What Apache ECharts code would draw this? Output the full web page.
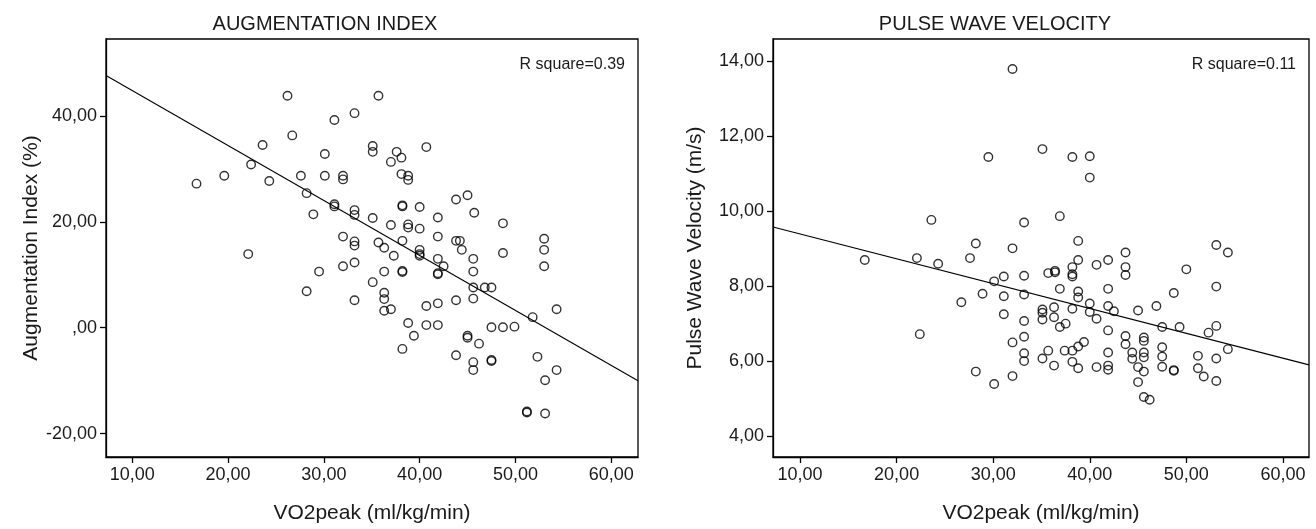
<!DOCTYPE html>
<html>
<head>
<meta charset="utf-8">
<title>AIx and PWV vs VO2peak</title>
<script src="https://cdn.jsdelivr.net/npm/echarts@6/dist/echarts.min.js"></script>
<style>
  html, body { margin: 0; padding: 0; background: #fff; }
  #main { width: 1316px; height: 529px; }
</style>
</head>
<body>
<div id="main"></div>
<script>
// augmentation index (%) against VO2peak
var aixPoints = [
  [16.7, 27.2], [19.6, 28.7], [22.4, 30.8], [23.6, 34.5], [24.3, 27.7], [26.2, 43.8],
  [26.7, 36.3], [27.6, 28.7], [28.2, 25.4], [28.9, 21.4], [30.1, 32.8], [30.1, 28.7],
  [31.1, 39.2], [31.1, 23.3], [31.1, 22.9], [32.0, 28.7], [32.0, 28.0], [32.0, 17.2],
  [33.2, 40.5], [33.2, 22.2], [33.2, 21.3], [33.2, 16.3], [33.2, 15.5], [35.1, 34.3],
  [35.1, 33.2], [35.1, 20.7], [35.7, 43.8], [35.7, 16.1], [36.3, 15.1], [22.1, 13.9],
  [28.2, 6.9], [29.5, 10.6], [32.0, 11.6], [33.2, 12.3], [33.2, 5.2], [35.1, 8.6],
  [37.6, 33.2], [38.1, 32.1], [37.0, 31.3], [40.7, 34.1], [38.1, 29.0], [38.8, 28.7],
  [38.8, 27.9], [38.2, 23.1], [38.2, 22.9], [40.0, 22.8], [43.8, 24.2], [45.0, 25.0],
  [45.7, 21.7], [41.9, 20.8], [38.8, 19.5], [38.8, 18.9], [37.0, 19.4], [40.0, 18.7],
  [48.7, 19.7], [41.9, 17.2], [43.8, 16.4], [44.2, 16.4], [53.0, 16.8], [53.0, 14.7],
  [53.0, 11.6], [38.2, 16.4], [40.0, 14.7], [40.0, 13.9], [40.0, 13.6], [41.9, 13.0],
  [42.5, 11.6], [44.4, 14.7], [45.6, 13.0], [48.7, 14.1], [37.3, 13.6], [36.3, 10.6],
  [38.2, 10.5], [38.2, 10.7], [41.9, 10.1], [41.9, 10.3], [45.6, 10.6], [36.3, 6.6],
  [36.3, 5.4], [36.3, 3.2], [37.0, 3.5], [40.7, 4.1], [41.9, 4.6], [43.8, 5.2],
  [45.6, 7.6], [45.6, 5.5], [46.8, 7.6], [47.5, 7.6], [38.8, 0.9], [40.7, 0.5],
  [41.9, 0.5], [39.4, -1.5], [38.2, -4.0], [45.0, -1.5], [45.0, -1.9], [46.2, -3.0],
  [47.5, 0.1], [48.7, 0.1], [49.9, 0.2], [43.8, -5.2], [45.6, -6.5], [45.6, -8.0],
  [47.5, -6.1], [47.5, -6.3], [51.8, 2.0], [54.3, 3.5], [52.3, -5.5], [54.3, -8.0],
  [53.1, -9.9], [51.2, -16.0], [51.2, -15.8], [53.1, -16.2]
]

// pulse wave velocity (m/s) against VO2peak
var pwvPoints = [
  [32.0, 13.80], [29.5, 11.45], [35.1, 11.66], [23.6, 9.77], [33.2, 9.70], [28.2, 9.14],
  [32.0, 9.01], [38.2, 11.45], [40.0, 11.47], [40.0, 10.90], [36.9, 9.87], [38.8, 9.21],
  [43.7, 8.90], [53.1, 9.10], [54.3, 8.90], [16.7, 8.70], [22.1, 8.75], [24.3, 8.60],
  [27.6, 8.75], [31.1, 8.26], [33.2, 8.28], [30.1, 8.13], [28.9, 7.80], [31.1, 7.73],
  [33.2, 7.78], [26.7, 7.57], [31.1, 7.25], [33.2, 7.07], [22.4, 6.72], [32.0, 6.50],
  [33.2, 6.65], [33.2, 6.21], [33.2, 6.00], [28.2, 5.72], [32.0, 5.60], [30.1, 5.39],
  [38.8, 8.70], [41.9, 8.70], [40.7, 8.57], [43.7, 8.51], [43.7, 8.30], [50.0, 8.45],
  [38.2, 8.51], [38.2, 8.32], [38.2, 8.26], [35.7, 8.35], [36.4, 8.41], [36.4, 8.37],
  [53.1, 7.99], [48.7, 7.82], [36.9, 7.93], [38.8, 7.86], [38.8, 7.70], [41.9, 7.93],
  [40.0, 7.54], [41.9, 7.47], [42.5, 7.33], [38.2, 7.40], [40.0, 7.31], [40.7, 7.13],
  [36.3, 7.44], [36.3, 7.17], [35.1, 7.38], [35.1, 7.29], [35.1, 7.11], [45.0, 7.35],
  [46.9, 7.47], [36.9, 6.91], [37.5, 7.00], [41.9, 6.82], [47.5, 6.91], [49.3, 6.91],
  [52.3, 6.76], [53.1, 6.94], [54.3, 6.32], [43.7, 6.67], [43.7, 6.45], [45.6, 6.63],
  [45.6, 6.54], [47.5, 6.37], [39.4, 6.51], [38.8, 6.39], [38.2, 6.28], [37.4, 6.28],
  [35.7, 6.28], [35.1, 6.07], [41.9, 6.23], [44.4, 6.23], [44.4, 6.06], [45.6, 6.23],
  [45.6, 6.10], [47.5, 6.12], [51.2, 6.14], [53.1, 6.07], [36.3, 5.88], [38.2, 5.98],
  [38.8, 5.81], [40.7, 5.84], [41.9, 5.88], [41.9, 5.77], [45.0, 5.84], [45.6, 5.72],
  [47.5, 5.85], [48.7, 5.76], [48.7, 5.74], [51.2, 5.81], [51.8, 5.59], [53.1, 5.47],
  [45.0, 5.44], [45.6, 5.04], [46.2, 4.97]
]

// fit line end points (as drawn, across the full x range)
var aixFit = [[7.25, 47.6], [62.8, -10.0]]
var pwvFit = [[7.2, 9.58], [62.7, 5.90]]

var xTicks = [10, 20, 30, 40, 50, 60]
var aixTicks = [-20, 0, 20, 40]
var pwvTicks = [4, 6, 8, 10, 12, 14]

var rsqText = ['R square=0.39', 'R square=0.11']

var FONT = 'Liberation Sans, Arial, sans-serif'
var INK = '#1a1a1a'

// 40 -> "40,00", 0 -> ",00" (SPSS style)
function spssNum(v) {
    var s = Math.abs(v).toFixed(2).replace('.', ',')
    if (s.indexOf('0,') === 0) s = s.substring(1)
    return (v < 0 ? '-' : '') + s
}

function valueAxis(idx, min, max, ticks, name, nameGap, labelMargin) {
    return {
        type: 'value',
        gridIndex: idx,
        min: min,
        max: max,
        name: name,
        nameLocation: 'middle',
        nameGap: nameGap,
        nameTextStyle: { fontFamily: FONT, fontSize: 21, color: INK },
        axisLine: { show: true, onZero: false, lineStyle: { color: '#000', width: 1.3 } },
        axisTick: { show: true, length: 6, inside: false, customValues: ticks, lineStyle: { color: '#000', width: 1.3 } },
        axisLabel: {
            customValues: ticks,
            margin: labelMargin,
            fontFamily: FONT,
            fontSize: 18,
            color: INK,
            formatter: spssNum
        },
        splitLine: { show: false }
    }
}

function scatter(idx, pts) {
    return {
        type: 'scatter',
        xAxisIndex: idx,
        yAxisIndex: idx,
        data: pts,
        symbol: 'circle',
        symbolSize: 8.5,
        itemStyle: { color: 'rgba(0,0,0,0)', borderColor: '#000', borderWidth: 1.4 },
        silent: true
    }
}

function fitLine(idx, pts) {
    return {
        type: 'line',
        xAxisIndex: idx,
        yAxisIndex: idx,
        data: pts,
        symbol: 'none',
        lineStyle: { color: '#000', width: 1.1 },
        silent: true,
        z: 1
    }
}

var chart = echarts.init(document.getElementById('main'), null, { renderer: 'canvas' })

var titleStyle = { fontFamily: FONT, fontSize: 20, fontWeight: 'normal', color: INK }
var rsqStyle = { fontFamily: FONT, fontSize: 16, fontWeight: 'normal', color: INK }

var option = {
    animation: false,
    backgroundColor: '#fff',
    title: [
        { text: 'AUGMENTATION INDEX', left: 320, top: 9, textAlign: 'center', textStyle: titleStyle },
        { text: 'PULSE WAVE VELOCITY', left: 990, top: 9, textAlign: 'center', textStyle: titleStyle },
        { text: rsqText[0], right: 686, top: 52, textStyle: rsqStyle },
        { text: rsqText[1], right: 15, top: 52, textStyle: rsqStyle }
    ],
    grid: [
        { left: 106, right: 678, top: 39, bottom: 70, show: true, borderColor: '#000', borderWidth: 1.3 },
        { left: 773, right: 7, top: 39, bottom: 70, show: true, borderColor: '#000', borderWidth: 1.3 }
    ],
    xAxis: [
        valueAxis(0, 7.25, 62.8, xTicks, 'VO2peak (ml/kg/min)', 46, 9),
        valueAxis(1, 7.2, 62.7, xTicks, 'VO2peak (ml/kg/min)', 46, 9)
    ],
    yAxis: [
        valueAxis(0, -24.4, 54.5, aixTicks, 'Augmentation Index (%)', 60, 9),
        valueAxis(1, 3.44, 14.6, pwvTicks, 'Pulse Wave Velocity (m/s)', 67, 9)
    ],
    series: [
        fitLine(0, aixFit),
        scatter(0, aixPoints),
        fitLine(1, pwvFit),
        scatter(1, pwvPoints)
    ]
}

chart.setOption(option)
</script>
</body>
</html>
